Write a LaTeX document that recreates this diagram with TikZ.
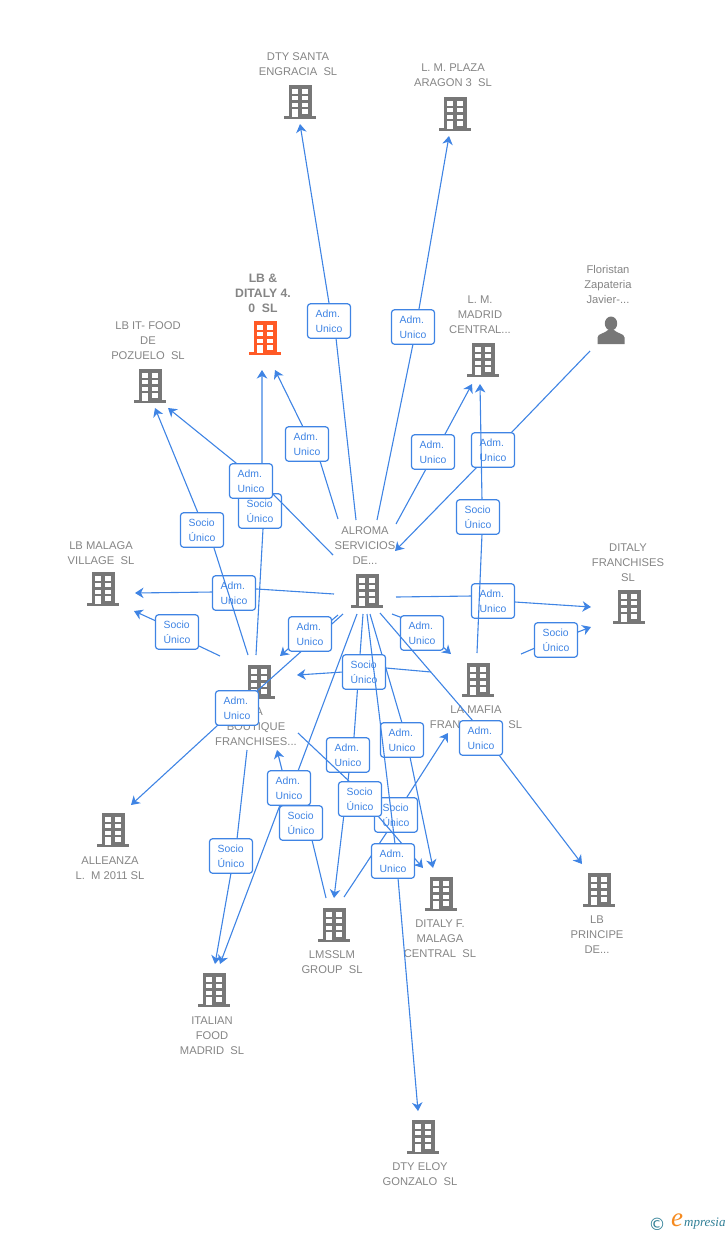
\documentclass[tikz,border=0pt]{standalone}
\usepackage{fontspec}
\setmainfont{Liberation Sans}
\newfontfamily\serifit{Liberation Serif}
\newfontfamily\symbfont{DejaVu Sans}
\usetikzlibrary{arrows.meta}
\definecolor{linkblue}{HTML}{3F84E4}
\definecolor{labgray}{HTML}{858585}
\definecolor{bldgray}{HTML}{777777}
\definecolor{bldorange}{HTML}{FF5A26}
\definecolor{logoteal}{HTML}{2F7F96}
\definecolor{logoorange}{HTML}{F58A1F}
\newcommand{\bldgshape}[1]{%
  \fill[#1] (-11.5,-17) rectangle (11.5,15);
  \fill[#1] (-16,14) rectangle (16,17);
  \foreach \wy in {-12.7,-6,0.7}{
    \fill[white] (-8,\wy) rectangle (-2,\wy+4.4);
    \fill[white] (2,\wy) rectangle (8,\wy+4.4);
  }
  \fill[white] (-8,7.3) rectangle (-2,15);
  \fill[white] (2,7.3) rectangle (8,11.7);
}
\tikzset{
  x=1pt,y=-1pt,
  edge/.style={draw=linkblue,line width=1.1pt,line join=round,-{Stealth[length=8.5pt,width=10.5pt,inset=2.6pt]}},
  lbl/.style={draw=linkblue,line width=1.2pt,rounded corners=3pt,fill=white,text=linkblue,
    minimum width=43pt,minimum height=34.5pt,inner sep=0pt,align=left,font=\fontsize{10.4}{15}\selectfont},
  lab/.style={yshift=-1pt,text=labgray,align=center,inner sep=0pt,font=\fontsize{11.2}{15}\selectfont},
  labb/.style={lab,font=\fontsize{12.2}{15}\selectfont\bfseries},
  bldg/.style={minimum width=33pt,minimum height=34pt,inner sep=0pt,
    path picture={\begin{scope}[shift={(path picture bounding box.center)}]\bldgshape{#1}\end{scope}}},
  person/.style={minimum width=28pt,minimum height=28pt,inner sep=0pt,
    path picture={\begin{scope}[shift={(path picture bounding box.center)}]
      \fill[bldgray] (0,-6.5) ellipse (6.2 and 7);
      \fill[bldgray] (-13.5,14) -- (-13.5,7.5) .. controls (-13.5,3.5) and (-6,3.5) .. (-3,0) -- (3,0) .. controls (6,3.5) and (13.5,3.5) .. (13.5,7.5) -- (13.5,14) -- cycle;
    \end{scope}}}
}
\newcommand{\lnk}[7]{%
  \coordinate (#1s) at (#4);
  \coordinate (#1t) at (#7);
  \coordinate (#1c) at (#3);
  \draw[edge] (#1s) -- ([shift={(#5)}]#1c) -- ([shift={(#6)}]#1c) -- (#1t);
  \node[lbl] (#1) at (#1c) {#2};
}
\def\adm{Adm.\\Unico}
\def\soc{Socio\\Único}
\begin{document}
\begin{tikzpicture}
\useasboundingbox (0,0) rectangle (728,1235);
% companies
\node[bldg=bldgray] (bDtyS) at (300,102) {};
\node[bldg=bldgray] (bPlaza) at (455,114) {};
\node[bldg=bldorange] (bLbd) at (265,338) {};
\node[bldg=bldgray] (bFood) at (150,386) {};
\node[bldg=bldgray] (bMadrid) at (483,360) {};
\node[bldg=bldgray] (bVillage) at (103,589) {};
\node[bldg=bldgray] (bAlroma) at (367,591) {};
\node[bldg=bldgray] (bDitaly) at (629,607) {};
\node[bldg=bldgray] (bBoutique) at (259,682) {};
\node[bldg=bldgray] (bMafia) at (478,680) {};
\node[bldg=bldgray] (bAlleanza) at (113,830) {};
\node[bldg=bldgray] (bMalaga) at (441,894) {};
\node[bldg=bldgray] (bLms) at (334,925) {};
\node[bldg=bldgray] (bPrincipe) at (599,890) {};
\node[bldg=bldgray] (bItalian) at (214,990) {};
\node[bldg=bldgray] (bEloy) at (423,1137) {};
\node[person] (pFlor) at (611,330) {};
% names
\node[lab] (tDtyS) at (298,63.5) {DTY SANTA\\ENGRACIA~~SL};
\node[lab] (tPlaza) at (453,74.5) {L. M. PLAZA\\ARAGON 3~~SL};
\node[labb] (tLbd) at (263,292) {LB \&\\DITALY 4.\\0~~SL};
\node[lab] (tFood) at (148,340) {LB IT- FOOD\\DE\\POZUELO~~SL};
\node[lab] (tMadrid) at (480,314) {L. M.\\MADRID\\CENTRAL...};
\node[lab] (tFlor) at (608,283) {Floristan\\Zapateria\\Javier-...};
\node[lab] (tAlroma) at (365,545) {ALROMA\\SERVICIOS\\DE...};
\node[lab] (tVillage) at (101,552.5) {LB MALAGA\\VILLAGE~~SL};
\node[lab] (tDitaly) at (628,561.5) {DITALY\\FRANCHISES\\SL};
\node[lab] (tBoutique) at (256,726) {LA\\BOUTIQUE\\FRANCHISES...};
\node[lab] (tMafia) at (476,716.5) {LA MAFIA\\FRANCHISES~~SL};
\node[lab] (tAlleanza) at (110,867.5) {ALLEANZA\\L.~~M 2011 SL};
\node[lab] (tMalaga) at (440,938) {DITALY F.\\MALAGA\\CENTRAL~~SL};
\node[lab] (tLms) at (332,961.5) {LMSSLM\\GROUP~~SL};
\node[lab] (tPrincipe) at (597,934) {LB\\PRINCIPE\\DE...};
\node[lab] (tItalian) at (212,1035) {ITALIAN\\FOOD\\MADRID~~SL};
\node[lab] (tEloy) at (420,1173.5) {DTY ELOY\\GONZALO~~SL};
% links
\lnk{lAlleanza}{\adm}{237,708}{343,614}{20,-17}{-19,17}{131,805}
\lnk{lBoutique}{\adm}{310,634}{338,615}{22,-14}{-22,15}{280,656}
\lnk{lVillageB}{\soc}{177,632}{220,656}{22,14}{-21,-11}{134,611}
\lnk{lVillageA}{\adm}{234,593}{334,594}{23,-4}{-21,-1}{135,593}
\lnk{lFoodB}{\soc}{202,530}{248,655}{12,18}{-4,-17}{155,408}
\lnk{lLbdB}{\soc}{260,511}{256,655}{3,18}{2,-17}{262,370}
\lnk{lFoodA}{\adm}{251,481}{333,555}{22,13}{-15,-18}{168,408}
\lnk{lSanta}{\adm}{329,321}{356,520}{7,17}{0,-18}{300,124}
\lnk{lPlaza}{\adm}{413,327}{377,520}{0,17}{6,-18}{449,136}
\lnk{lLbdA}{\adm}{307,444}{338,519}{13,17}{-4,-17}{275,370}
\lnk{lMadridA}{\adm}{433,452}{396,524}{-7,17}{11,-16}{472,384}
\lnk{lFlor}{\adm}{493,450}{590,351}{18,-17}{-16,17}{395,551}
\lnk{lDitalyA}{\adm}{493,601}{396,597}{-21,-5}{22,1}{591,607}
\lnk{lMadridB}{\soc}{478,517}{477,653}{4,17}{4,-17}{480,384}
\lnk{lDitalyB}{\soc}{556,640}{521,654}{-21,8}{22,-8}{591,627}
\lnk{lMafiaA}{\adm}{422,633}{392,614}{-22,-16}{21,14}{451,654}
\lnk{lLmsA}{\adm}{348,755}{363,614}{6,-18}{1,17}{334,898}
\lnk{lMalagaA}{\adm}{402,740}{370,614}{0,-17}{8,17}{433,868}
\lnk{lPrincipe}{\adm}{481,738}{380,613}{-8,-17}{18,17}{582,864}
\lnk{lBoutiqueB}{\soc}{364,672}{431,672}{22,-4}{-21,0}{297,675}
\lnk{lMafiaB}{\soc}{396,815}{344,897}{-9,17}{11,-18}{448,733}
\lnk{lMalagaB}{\soc}{360,799}{298,733}{-10,-17}{18,17}{423,868}
\lnk{lEloy}{\adm}{393,861}{367,614}{2,-17}{5,17}{418,1111}
\lnk{lBackB}{\soc}{301,823}{326,898}{11,17}{-10,-17}{277,750}
\lnk{lItalianA}{\adm}{289,788}{357,614}{9,-17}{-9,17}{220,964}
\lnk{lItalianB}{\soc}{231,856}{247,750}{6,-17}{0,17}{215,964}
% mark
\node[text=logoteal,inner sep=0pt,font=\fontsize{17}{17}\symbfont] (mCopy) at (657,1224) {©};
\node[text=logoorange,inner sep=0pt,font=\fontsize{27}{27}\serifit\itshape] (mE) at (677,1220) {e};
\node[text=logoteal,inner sep=0pt,anchor=west,font=\fontsize{13}{14}\serifit\itshape] (mName) at (684,1224) {mpresia};
\end{tikzpicture}
\end{document}
